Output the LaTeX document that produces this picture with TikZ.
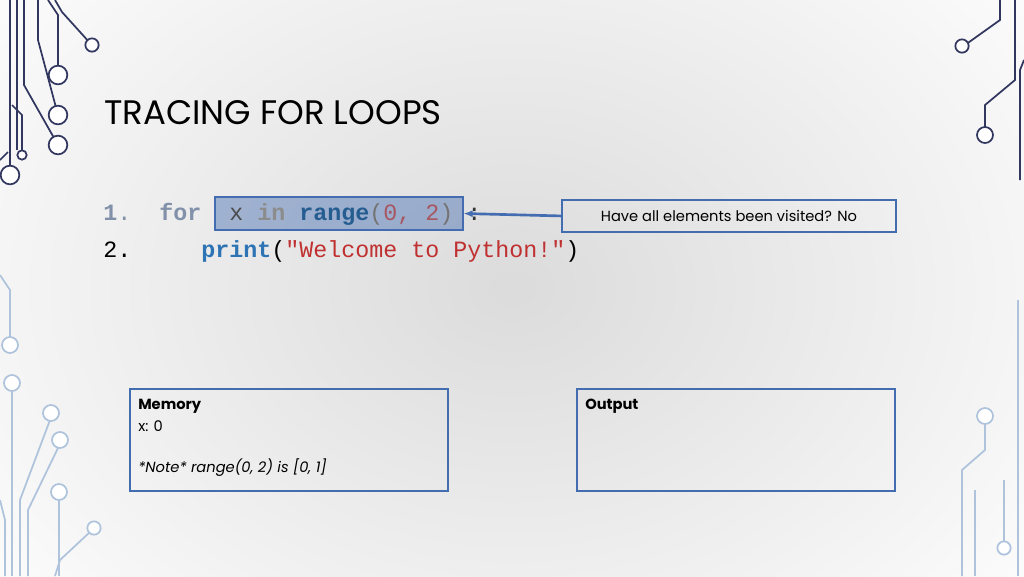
\documentclass[tikz,border=0pt]{standalone}
\usepackage{fontspec}
\setmainfont{Poppins}
\setmonofont{Liberation Mono}
\usetikzlibrary{positioning,arrows.meta}
\definecolor{kwblue}{RGB}{46,116,181}
\definecolor{strred}{RGB}{192,48,48}
\definecolor{dimblue}{RGB}{130,145,170}
\definecolor{navy}{RGB}{50,55,95}
\definecolor{pale}{RGB}{175,195,220}
\definecolor{boxblue}{RGB}{68,108,176}
\tikzset{
    wire/.style={line width=1.3pt,navy},
    lwire/.style={line width=1.3pt,pale},
    pad/.style={circle,line width=1.3pt,fill=white,inner sep=0pt,minimum size=#1},
    infobox/.style={draw=boxblue,line width=1.4pt,anchor=north west,inner sep=0pt},
    codeline/.style={anchor=base west,font=\ttfamily\fontsize{17.5}{22}\selectfont,inner sep=0pt}
}
\begin{document}
\begin{tikzpicture}[x=0.75pt,y=-0.75pt]
        \useasboundingbox (0,0) rectangle (1024,576);
        \shade [inner color=black!14,outer color=white] (-200,-250) rectangle (1224,826);
        % circuit lines, left top
        \draw [wire] (10,0) -- (10,175);
        \node [pad=14pt,draw=navy] at (10,175) {};
        \draw [wire] (17,0) -- (17,150);
        \draw [wire] (24,0) -- (24,85) -- (58,145);
        \node [pad=14pt,draw=navy] at (58,145) {};
        \draw [wire] (38,0) -- (38,40) -- (58,115);
        \node [pad=14pt,draw=navy] at (58,115) {};
        \draw [wire] (48,0) -- (58,15) -- (58,75);
        \node [pad=14pt,draw=navy] at (58,75) {};
        \draw [wire] (55,0) -- (62,12) -- (90,43);
        \node [pad=10pt,draw=navy] at (92,45) {};
        \draw [wire] (12,105) -- (22,115) -- (22,150);
        \node [pad=7pt,draw=navy] at (22,155) {};
        \draw [wire] (0,160) -- (8,152);
        % circuit lines, left bottom
        \draw [lwire] (0,275) -- (10,290) -- (10,340);
        \node [pad=12pt,draw=pale] at (10,345) {};
        \draw [lwire] (12,390) -- (12,576);
        \node [pad=12pt,draw=pale] at (12,383) {};
        \draw [lwire] (50,420) -- (20,500) -- (20,576);
        \node [pad=12pt,draw=pale] at (51,413) {};
        \draw [lwire] (58,448) -- (28,510) -- (28,576);
        \node [pad=12pt,draw=pale] at (60,440) {};
        \draw [lwire] (59,500) -- (59,576);
        \node [pad=12pt,draw=pale] at (59,492) {};
        \draw [lwire] (90,532) -- (60,560) -- (55,576);
        \node [pad=10pt,draw=pale] at (94,528) {};
        \draw [lwire] (0,500) -- (5,520) -- (5,576);
        % circuit lines, right top
        \draw [wire] (1000,0) -- (1000,20) -- (965,45);
        \node [pad=10pt,draw=navy] at (962,46) {};
        \draw [wire] (1015,0) -- (1015,80) -- (985,105) -- (985,130);
        \node [pad=12pt,draw=navy] at (985,135) {};
        \draw [wire] (1024,60) -- (1020,70) -- (1020,180);
        % circuit lines, right bottom
        \draw [lwire] (985,422) -- (985,450) -- (962,470) -- (962,576);
        \node [pad=12pt,draw=pale] at (985,416) {};
        \draw [lwire] (1004,480) -- (1004,542);
        \node [pad=10pt,draw=pale] at (1004,548) {};
        \draw [lwire] (1018,300) -- (1018,576);
        \draw [lwire] (975,576) -- (975,490);
        % title
        \node (title) [anchor=base west,inner sep=0pt,font=\fontsize{25.5}{30}\selectfont] at (104,124) {TRACING FOR LOOPS};
        % code
        \fill [boxblue,opacity=.45] (215,197) rectangle (463,230);
        \draw [boxblue,line width=1.4pt] (215,197) rectangle (463,230);
        \node (hl) [inner sep=0pt,minimum width=248*0.75pt,minimum height=33*0.75pt] at (339,213.5) {};
        \node (one) [codeline] at (103,220) {\textcolor{dimblue}{\textbf{1}.}~~\textcolor{dimblue}{\textbf{for}}~~\textcolor{black!70}{x}~\textcolor{black!45}{\textbf{in}}~\textcolor{kwblue!80!black}{\textbf{range}}\textcolor{black!55}{(}\textcolor{strred!60!dimblue}{0, 2}\textcolor{black!55}{)}~\textcolor{black!80}{:}};
        \node (two) [codeline] at (103,257) {2.~~~~~\textcolor{kwblue}{\textbf{print}}(\textcolor{strred}{"Welcome to Python!"})};
        % question box
        \node (ask) [infobox,minimum width=334*0.75pt,minimum height=32*0.75pt,font=\fontsize{11}{13}\selectfont] at (561,199) {Have all elements been visited? No};
        \draw [boxblue,line width=2pt,-{Latex[length=7pt]}] (ask.west) -- (hl.east);
        % memory and output
        \node (mem) [infobox,minimum width=318*0.75pt,minimum height=102*0.75pt] at (129,388) {};
        \node [anchor=north west,align=left,font=\fontsize{11}{16.5}\selectfont,inner sep=0pt] at ([shift={(9,11)}]mem.north west) {\textbf{Memory}\\x: 0\\[14pt]\textit{*Note* range(0, 2) is [0, 1]}};
        \node (out) [infobox,minimum width=318*0.75pt,minimum height=102*0.75pt] at (576,388) {};
        \node [anchor=north west,font=\fontsize{11}{15}\selectfont\bfseries,inner sep=0pt] at ([shift={(9,11)}]out.north west) {Output};
\end{tikzpicture}
\end{document}
